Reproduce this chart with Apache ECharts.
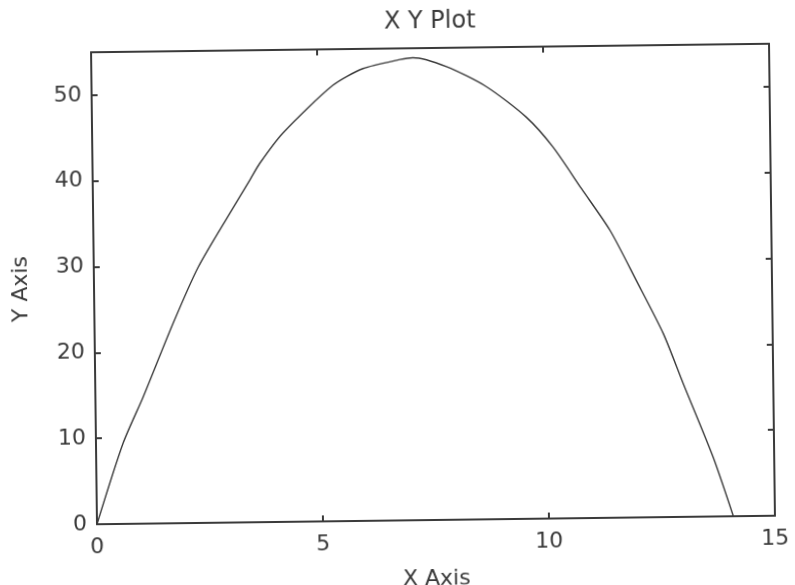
<!DOCTYPE html>
<html>
<head>
<meta charset="utf-8">
<title>XY Plot</title>
<script src="https://cdn.jsdelivr.net/npm/echarts@6/dist/echarts.min.js"></script>
<style>
    * {
        margin: 0;
        padding: 0;
    }
    body {
        background: #ffffff;
    }
    #plot {
        width: 795px;
        height: 585px;
        /* the scanned figure is a little tilted */
        transform: rotate(-0.72deg);
        transform-origin: 433px 284px;
    }
</style>
</head>
<body>
<div id="plot"></div>
<script>
    // curve
    var xValues = [0, 0.6, 1.06, 1.74, 2.31, 3.02, 3.48, 3.7, 4.22, 5.34, 6.01, 6.83, 7.12, 7.86, 8.74, 9.61, 10.19, 10.81, 11.43, 12.0, 12.58, 13.01, 13.65, 14.08];
    var yValues = [0, 9.4, 14.8, 23.3, 29.8, 36.0, 39.9, 41.8, 45.3, 50.8, 52.7, 53.7, 53.9, 52.8, 50.4, 46.8, 43.3, 38.4, 33.5, 27.6, 21.4, 15.5, 6.9, 0];

    var titleText = 'X Y Plot';
    var xName = 'X Axis';
    var yName = 'Y Axis';

    var ink = '#3a3a3a';
    var fontName = 'DejaVu Sans';

    var points = [];
    for (var i = 0; i < xValues.length; i++) {
        points.push([xValues[i], yValues[i]]);
    }

    // box side with inward ticks, no labels
    function sideAxis(extra) {
        var a = {
            axisLine: { show: true, onZero: false, lineStyle: { color: ink, width: 2 } },
            axisTick: { show: true, inside: true, length: 6, lineStyle: { color: ink, width: 2 } },
            axisLabel: { show: false },
            splitLine: { show: false }
        };
        for (var k in extra) a[k] = extra[k];
        return a;
    }

    var option = {
        backgroundColor: '#ffffff',
        animation: false,
        title: {
            text: titleText,
            left: 428,
            top: 5,
            textAlign: 'center',
            textStyle: {
                fontFamily: fontName,
                fontWeight: 'normal',
                fontSize: 24,
                color: ink
            }
        },
        grid: {
            left: 94,
            top: 48,
            right: 23,
            bottom: 65,
            outerBoundsMode: 'none'
        },
        xAxis: [
            sideAxis({
                type: 'value',
                position: 'bottom',
                min: 0,
                max: 15,
                interval: 5,
                name: xName,
                nameLocation: 'middle',
                nameGap: 48,
                nameTextStyle: { fontFamily: fontName, fontSize: 22, color: ink },
                axisLabel: { show: true, margin: 12, fontFamily: fontName, fontSize: 22, color: ink }
            }),
            sideAxis({
                type: 'value',
                position: 'top',
                min: 0,
                max: 15,
                interval: 5
            })
        ],
        yAxis: [
            sideAxis({
                type: 'value',
                position: 'left',
                min: 0,
                max: 55,
                interval: 10,
                name: yName,
                nameLocation: 'middle',
                nameGap: 62,
                nameTextStyle: { fontFamily: fontName, fontSize: 22, color: ink },
                axisLabel: {
                    show: true,
                    margin: 10,
                    fontFamily: fontName,
                    fontSize: 22,
                    color: ink,
                    showMaxLabel: false
                }
            }),
            sideAxis({
                type: 'value',
                position: 'right',
                min: 0,
                max: 55,
                interval: 10
            })
        ],
        series: [
            {
                type: 'line',
                data: points,
                showSymbol: false,
                smooth: 0.25,
                lineStyle: { color: ink, width: 1.4 }
            }
        ]
    };

    var myChart = echarts.init(document.getElementById('plot'));
    myChart.setOption(option);
</script>
</body>
</html>
